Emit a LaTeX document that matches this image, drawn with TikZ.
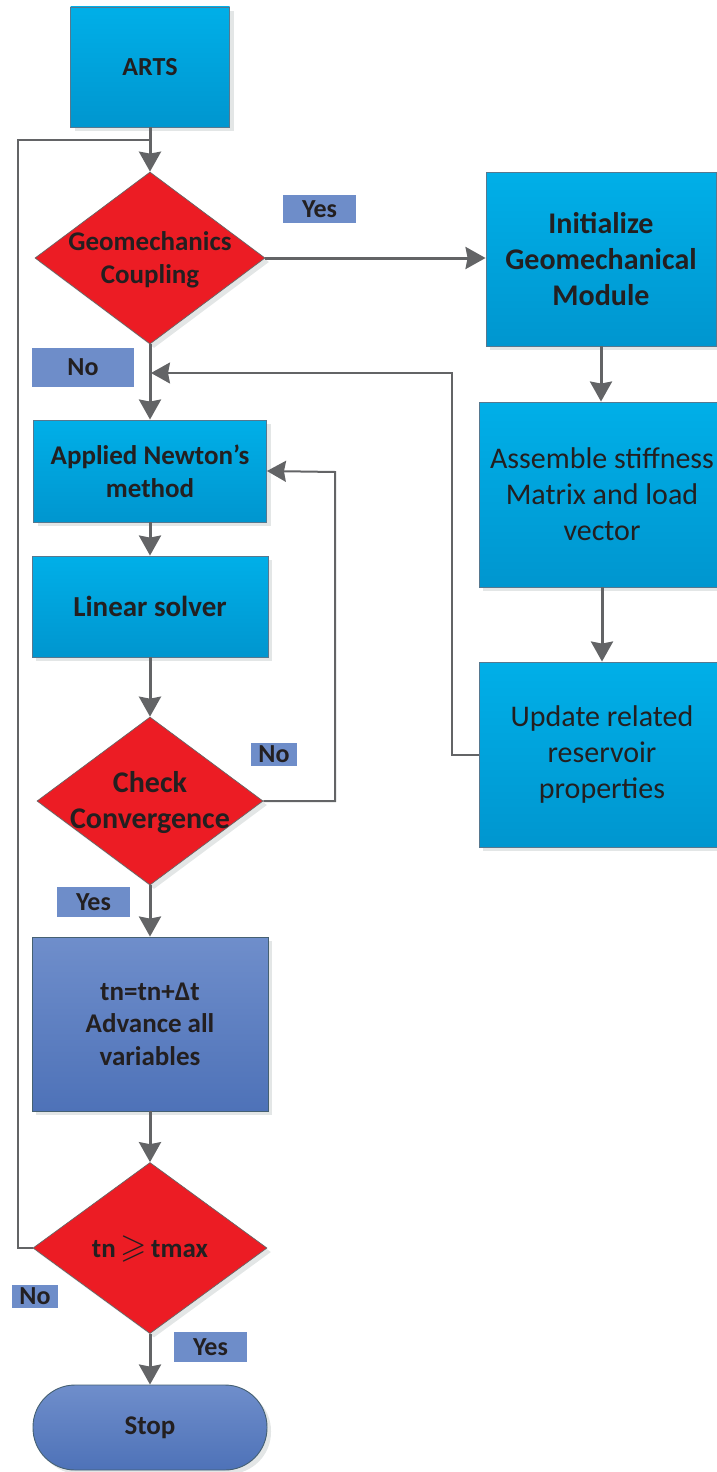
\documentclass[tikz,border=0pt]{standalone}
\usepackage{fontspec}
\setmainfont{Carlito}
\usepackage{amssymb}
\usetikzlibrary{shapes.geometric,arrows.meta,shadows}

\definecolor{cyanTop}{HTML}{00AFE8}
\definecolor{cyanBot}{HTML}{0096CF}
\definecolor{navyTop}{HTML}{6F8ECB}
\definecolor{navyBot}{HTML}{4E72B8}
\definecolor{diared}{HTML}{EC1C24}
\definecolor{tagblue}{HTML}{6E8DC9}
\definecolor{linegray}{HTML}{636466}
\definecolor{boxedge}{HTML}{56788F}
\definecolor{shadowgray}{HTML}{E3E6E6}
\definecolor{ink}{HTML}{231F20}

\begin{document}
\begin{tikzpicture}[x=1pt,y=-1pt,
  shad/.style={drop shadow={shadow xshift=4pt,shadow yshift=-4pt,fill=shadowgray,opacity=1}},
  cbox/.style={rectangle,draw=boxedge,line width=0.9pt,top color=cyanTop,bottom color=cyanBot,
    shad,inner sep=0pt,text=ink,align=center},
  nbox/.style={rectangle,draw=boxedge!80!black,line width=0.9pt,top color=navyTop,bottom color=navyBot,
    shad,inner sep=0pt,text=ink,align=center},
  dia/.style={diamond,draw=gray!80!black,line width=0.7pt,fill=diared,shad,inner sep=0pt},
  bold/.style 2 args={font=\fontsize{#1}{#2}\selectfont\bfseries},
  plain/.style 2 args={font=\fontsize{#1}{#2}\selectfont},
  txt/.style={text=ink,align=center,inner sep=0pt},
  tag/.style={fill=tagblue,inner sep=0pt,text=ink,font=\fontsize{26}{30}\selectfont\bfseries},
  flow/.style={draw=linegray,line width=3pt,-{Stealth[length=20pt,width=22pt,inset=2pt]}},
  back/.style={draw=linegray,line width=2pt},
  backarrow/.style={back,-{Stealth[length=19pt,width=21pt,inset=2pt]}}
]
\useasboundingbox (0,0) rectangle (717,1472);
\clip (0,0) rectangle (717,1472);

% main column
\node[cbox,bold={26}{32},minimum width=159pt,minimum height=120pt] (arts) at (150,67) {ARTS};
\node[dia,minimum width=230pt,minimum height=172pt] (d1) at (150,258) {};
\node[txt,bold={27}{33}] (d1t) at (150,260) {Geomechanics\\Coupling};
\node[cbox,bold={27}{33},minimum width=233pt,minimum height=102pt] (newton) at (150,471) {Applied Newton’s\\method};
\node[cbox,bold={29}{35},minimum width=236pt,minimum height=101pt] (lin) at (150,606.5) {Linear solver};
\node[dia,minimum width=226pt,minimum height=168pt] (d2) at (150,801) {};
\node[txt,bold={30}{36}] (d2t) at (150,803) {Check\\Convergence};
\node[nbox,bold={27}{32.5},minimum width=236pt,minimum height=174pt] (adv) at (150,1024) {tn=tn+Δt\\Advance all\\variables};
\node[dia,minimum width=234pt,minimum height=171pt] (d3) at (150,1248) {};
\node[txt,bold={27}{33}] (d3t) at (150,1249) {tn\,{\fontsize{34}{34}\selectfont$\geqslant$}\,tmax};
\node[nbox,bold={27}{33},rounded corners=42pt,minimum width=234pt,minimum height=85pt] (stop) at (150,1427.5) {Stop};

% geomechanics column
\node[cbox,bold={30}{36},minimum width=230pt,minimum height=174pt] (init) at (601,259) {Initialize\\Geomechanical\\Module};
\node[cbox,plain={30}{36},minimum width=246pt,minimum height=185pt] (asm) at (602,494.5) {Assemble stiffness\\Matrix and load\\vector};
\node[cbox,plain={30}{36},minimum width=246pt,minimum height=185pt] (upd) at (602,754.5) {Update related\\reservoir\\properties};

% branch labels
\node[tag,minimum width=73pt,minimum height=28pt] (y1) at (319.5,209) {Yes};
\node[tag,minimum width=102pt,minimum height=39pt] (n1) at (83,367.5) {No};
\node[tag,minimum width=46pt,minimum height=23pt] (n2) at (274,754.5) {No};
\node[tag,minimum width=73pt,minimum height=30pt] (y2) at (93.5,902) {Yes};
\node[tag,minimum width=46pt,minimum height=23pt] (n3) at (35,1296.5) {No};
\node[tag,minimum width=73pt,minimum height=30pt] (y3) at (210.5,1347) {Yes};

% bend and junction points
\coordinate (lp) at (18,140);
\coordinate (m1) at (150,140);
\coordinate (c2) at (452,373);
\coordinate (m2) at (151,373);
\coordinate (c3) at (335,472);

% connectors
\draw[back] (d3.west) -| (lp) -- (m1);
\draw[flow] (arts.south) -- (d1.north);
\draw[flow] (d1.east) -- (d1.east -| init.west);
\draw[flow] (init.south) -- (init.south |- asm.north);
\draw[flow] (asm.south) -- (asm.south |- upd.north);
\draw[backarrow] (upd.west) -| (c2) -- (m2);
\draw[flow] (d1.south) -- (newton.north);
\draw[flow] (newton.south) -- (lin.north);
\draw[flow] (lin.south) -- (d2.north);
\draw[backarrow] (d2.east) -| (c3) -- (newton.east);
\draw[flow] (d2.south) -- (adv.north);
\draw[flow] (adv.south) -- (d3.north);
\draw[flow] (d3.south) -- (stop.north);
\end{tikzpicture}
\end{document}
